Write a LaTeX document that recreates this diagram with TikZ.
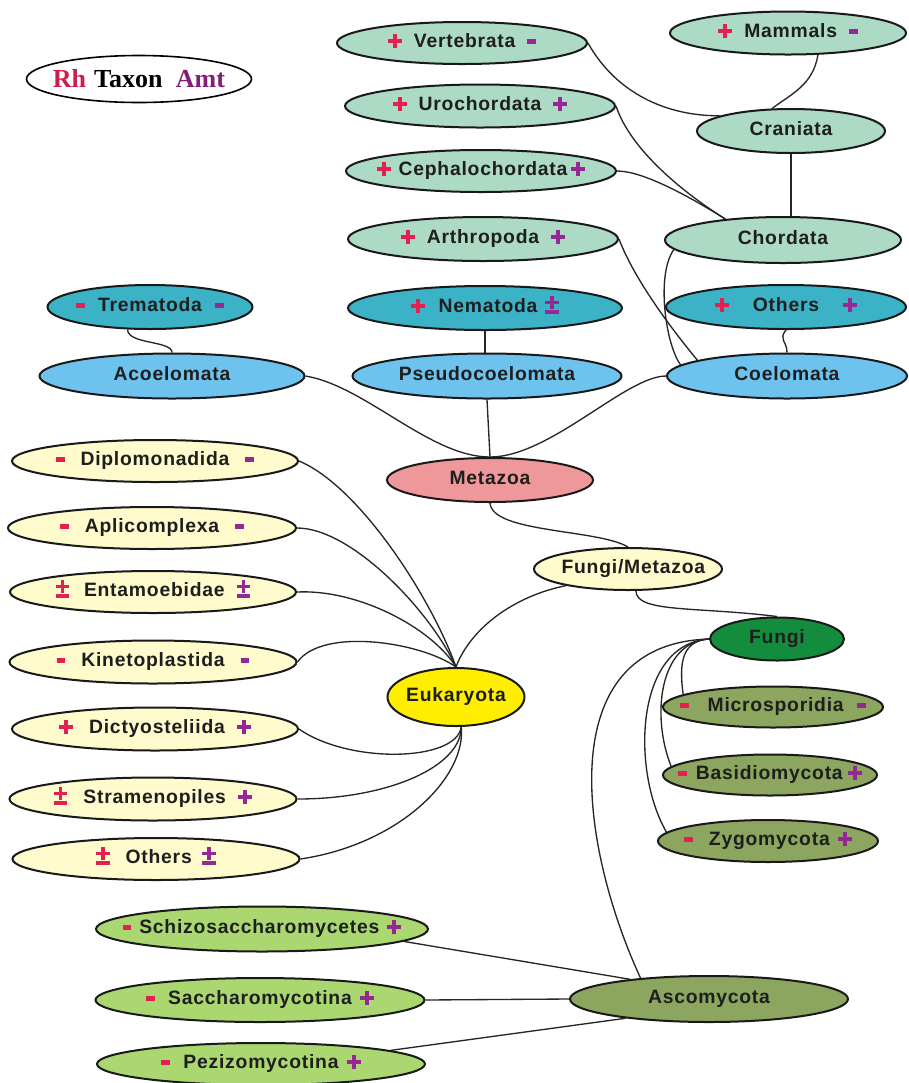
\documentclass[tikz,border=0pt]{standalone}
\usepackage{fontspec}
\usetikzlibrary{shapes.geometric,backgrounds}
\newfontfamily\lab{Liberation Sans}[LetterSpace=4]
\newfontfamily\legf{Liberation Serif}
\definecolor{mint}{RGB}{172,218,196}
\definecolor{tealc}{RGB}{60,178,198}
\definecolor{lblue}{RGB}{110,195,238}
\definecolor{pinkc}{RGB}{238,152,156}
\definecolor{lyel}{RGB}{255,251,205}
\definecolor{yelc}{RGB}{255,238,0}
\definecolor{fgreen}{RGB}{20,140,62}
\definecolor{olive}{RGB}{140,165,95}
\definecolor{lgreen}{RGB}{170,215,112}
\definecolor{rc}{RGB}{228,32,82}
\definecolor{pc}{RGB}{150,40,150}
\definecolor{txtc}{RGB}{30,30,30}
\definecolor{rhc}{RGB}{205,30,75}
\definecolor{amc}{RGB}{130,30,120}
\newcommand\ctr[1]{\makebox[0pt]{#1}}
\newcommand\sgP[1]{\textcolor{#1}{\makebox[10.5pt][l]{\rlap{\rule[3.2pt]{10.5pt}{3pt}}\hspace{3.75pt}\rule[-0.5pt]{3pt}{10.5pt}}}}
\newcommand\sgM[1]{\textcolor{#1}{\rule[3pt]{6.5pt}{3.5pt}}}
\newcommand\sgPM[1]{\textcolor{#1}{\makebox[10pt][l]{\rlap{\rule[-1pt]{10pt}{2.8pt}}\rlap{\rule[6.3pt]{10pt}{2.6pt}}\hspace{3.7pt}\rule[3pt]{2.6pt}{9.2pt}}}}
\tikzset{
  tx/.style={ellipse, draw=black!90, line width=1.5pt, inner sep=0pt,
    text height=10pt, text depth=3pt,
    font=\lab\bfseries\fontsize{14.5}{16}\selectfont, text=txtc},
  sz/.style 2 args={minimum width=#1*0.75pt, minimum height=#2*0.75pt},
  lk/.style={line width=1pt, black!85},
}
\begin{document}
\begin{tikzpicture}[x=0.75pt,y=-0.75pt]
\useasboundingbox (0,0) rectangle (909,1083);
% legend
\node[ellipse, draw, line width=1.2pt, fill=white, inner sep=0pt, sz={225}{47},
  font=\legf\bfseries\fontsize{19.5}{21}\selectfont] (leg) at (139,79)
  {\ctr{\textcolor{rhc}{Rh}\hspace{6pt}Taxon\hspace{10pt}\textcolor{amc}{Amt}}};
% chordates
\node[tx,sz={250}{42},fill=mint] (vert) at (462,43) {\ctr{\sgP{rc}\hspace{9pt}Vertebrata\hspace{9pt}\sgM{pc}}};
\node[tx,sz={236}{43},fill=mint] (mam) at (788,33) {\ctr{\sgP{rc}\hspace{9pt}Mammals\hspace{9pt}\sgM{pc}}};
\node[tx,sz={270}{43},fill=mint] (uro) at (480,106) {\ctr{\sgP{rc}\hspace{9pt}Urochordata\hspace{9pt}\sgP{pc}}};
\node[tx,sz={188}{44},fill=mint] (cran) at (791,131) {\ctr{Craniata}};
\node[tx,sz={270}{42},fill=mint] (ceph) at (481,171) {\ctr{\sgP{rc}\hspace{6pt}Cephalochordata\hspace{3pt}\sgP{pc}}};
\node[tx,sz={236}{46},fill=mint] (chor) at (783,240) {\ctr{Chordata}};
\node[tx,sz={270}{44},fill=mint] (arth) at (483,239) {\ctr{\sgP{rc}\hspace{9pt}Arthropoda\hspace{9pt}\sgP{pc}}};
% teal
\node[tx,sz={205}{44},fill=tealc] (trem) at (150,307) {\ctr{\sgM{rc}\hspace{10pt}Trematoda\hspace{10pt}\sgM{pc}}};
\node[tx,sz={274}{44},fill=tealc] (nem) at (485,308) {\ctr{\sgP{rc}\hspace{10pt}Nematoda\hspace{6pt}\sgPM{pc}}};
\node[tx,sz={240}{44},fill=tealc] (othT) at (786,307) {\ctr{\sgP{rc}\hspace{18pt}Others\hspace{18pt}\sgP{pc}}};
% blue
\node[tx,sz={265}{45},fill=lblue] (acoe) at (172,376) {\ctr{Acoelomata}};
\node[tx,sz={269}{45},fill=lblue] (pseu) at (487,376) {\ctr{Pseudocoelomata}};
\node[tx,sz={240}{45},fill=lblue] (coel) at (787,376) {\ctr{Coelomata}};
\node[tx,sz={206}{44},fill=pinkc] (meta) at (490,480) {\ctr{Metazoa}};
% protists
\node[tx,sz={286}{42},fill=lyel] (dip) at (155,461) {\ctr{\sgM{rc}\hspace{12pt}Diplomonadida\hspace{12pt}\sgM{pc}}};
\node[tx,sz={288}{42},fill=lyel] (apl) at (152,528) {\ctr{\sgM{rc}\hspace{12pt}Aplicomplexa\hspace{12pt}\sgM{pc}}};
\node[tx,sz={286}{42},fill=lyel] (ent) at (153,592) {\ctr{\sgPM{rc}\hspace{11pt}Entamoebidae\hspace{9pt}\sgPM{pc}}};
\node[tx,sz={287}{43},fill=lyel] (kin) at (153,662) {\ctr{\sgM{rc}\hspace{12pt}Kinetoplastida\hspace{12pt}\sgM{pc}}};
\node[tx,sz={286}{43},fill=lyel] (dic) at (155,729) {\ctr{\sgP{rc}\hspace{12pt}Dictyosteliida\hspace{9pt}\sgP{pc}}};
\node[tx,sz={287}{43},fill=lyel] (stra) at (153,799) {\ctr{\sgPM{rc}\hspace{12pt}Stramenopiles\hspace{9pt}\sgP{pc}}};
\node[tx,sz={287}{42},fill=lyel] (othY) at (156,859) {\ctr{\sgPM{rc}\hspace{12pt}Others\hspace{8pt}\sgPM{pc}}};
\node[tx,sz={188}{42},fill=lyel] (fm) at (628,569) {\ctr{\hspace{8pt}Fungi/Metazoa}};
\node[tx,sz={137}{58},fill=yelc] (euk) at (456,697) {\ctr{Eukaryota}};
% fungi
\node[tx,sz={134}{43},fill=fgreen] (fungi) at (777,639) {\ctr{Fungi}};
\node[tx,sz={220}{41},fill=olive] (mic) at (773,707) {\ctr{\sgM{rc}\hspace{14pt}Microsporidia\hspace{10pt}\sgM{pc}}};
\node[tx,sz={214}{41},fill=olive] (basi) at (770,775) {\ctr{\sgM{rc}\hspace{7pt}Basidiomycota\hspace{4pt}\sgP{pc}}};
\node[tx,sz={220}{42},fill=olive] (zygo) at (768,841) {\ctr{\sgM{rc}\hspace{12pt}Zygomycota\hspace{6pt}\sgP{pc}}};
\node[tx,sz={278}{46},fill=olive] (asco) at (709,999) {\ctr{Ascomycota}};
\node[tx,sz={332}{45},fill=lgreen] (schi) at (262,929) {\ctr{\sgM{rc}\hspace{6pt}Schizosaccharomycetes\hspace{6pt}\sgP{pc}}};
\node[tx,sz={329}{44},fill=lgreen] (sac) at (260,1000) {\ctr{\sgM{rc}\hspace{10pt}Saccharomycotina\hspace{6pt}\sgP{pc}}};
\node[tx,sz={328}{42},fill=lgreen] (pez) at (261,1064) {\ctr{\sgM{rc}\hspace{10pt}Pezizomycotina\hspace{6pt}\sgP{pc}}};
% connectors
\begin{scope}[on background layer]
\fill[white] (0,0) rectangle (909,1083);
\draw[lk] (vert.east) .. controls +(25,45) and +(-60,0) .. (cran.168);
\draw[lk] (mam.-36) .. controls +(-5,30) and +(20,-15) .. (cran.130);
\draw[lk] (cran.south) -- (cran.south |- chor.north);
\draw[lk] (uro.east) .. controls +(15,45) and +(-40,-25) .. (chor.160);
\draw[lk] (ceph.east) .. controls +(25,0) and +(-40,-25) .. (chor.160);
\draw[lk] (arth.east) .. controls +(15,40) and +(-25,-30) .. (coel.170);
\draw[lk] (chor.-175) .. controls +(-18,25) and +(-15,-20) .. (coel.174);
\draw[lk] (othT.south) .. controls +(-8,10) and +(0,-12) .. (coel.north);
\draw[lk] (trem.-135) .. controls +(0,15) and +(0,-12) .. (acoe.north);
\draw[lk] (nem.south) -- (nem.south |- pseu.north);
\draw[lk] (acoe.east) .. controls +(60,10) and +(-60,0) .. (meta.north);
\draw[lk] (pseu.south) -- (meta.north);
\draw[lk] (coel.west) .. controls +(-40,0) and +(60,0) .. (meta.north);
\draw[lk] (meta.south) .. controls +(2,30) and +(-30,-18) .. (fm.north);
\draw[lk] (fm.-70) .. controls +(0,22) and +(-80,-10) .. (fungi.north);
\draw[lk] (fm.-165) .. controls +(-50,10) and +(15,-40) .. (euk.north);
\draw[lk] (dip.east) .. controls +(60,25) and +(-25,-70) .. (euk.north);
\draw[lk] (apl.east) .. controls +(55,0) and +(-25,-55) .. (euk.north);
\draw[lk] (ent.east) .. controls +(60,-3) and +(-25,-40) .. (euk.north);
\draw[lk] (kin.east) .. controls +(25,-35) and +(-35,-25) .. (euk.north);
\draw[lk] (dic.east) .. controls +(50,35) and +(-5,35) .. (euk.-80);
\draw[lk] (stra.east) .. controls +(90,0) and +(0,40) .. (euk.-80);
\draw[lk] (othY.east) .. controls +(100,-15) and +(5,50) .. (euk.-80);
\draw[lk] (fungi.west) .. controls +(-28,2) and +(-4,-30) .. (mic.172);
\draw[lk] (fungi.west) .. controls +(-50,3) and +(-20,-50) .. (basi.175);
\draw[lk] (fungi.west) .. controls +(-75,5) and +(-35,-60) .. (zygo.175);
\draw[lk] (fungi.west) .. controls +(-160,5) and +(-60,-130) .. (asco.163);
\draw[lk] (schi.-5) -- (asco.166);
\draw[lk] (sac.east) -- (asco.west);
\draw[lk] (pez.6) -- (asco.-167);
\end{scope}
\end{tikzpicture}
\end{document}
